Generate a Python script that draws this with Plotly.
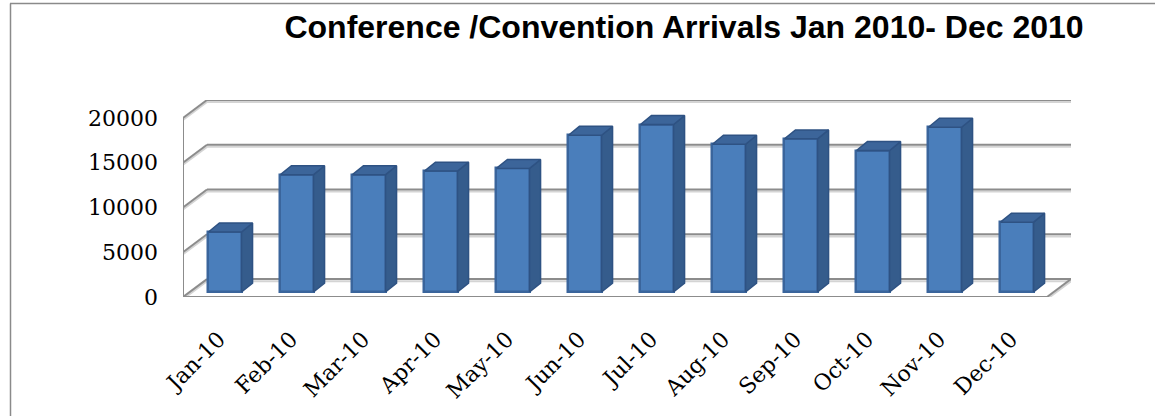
import plotly.graph_objects as go

# ---- data ----
MONTHS = ["Jan-10", "Feb-10", "Mar-10", "Apr-10", "May-10", "Jun-10",
          "Jul-10", "Aug-10", "Sep-10", "Oct-10", "Nov-10", "Dec-10"]
ARRIVALS = [6700, 13100, 13100, 13500, 13800, 17500,
            18700, 16500, 17100, 15800, 18400, 7800]
Y_TICKS = [0, 5000, 10000, 15000, 20000]
Y_TICK_LABELS = ["0", "5000", "10000", "15000", "20000"]
TITLE = "Conference /Convention Arrivals Jan 2010- Dec 2010"

# ---- pseudo-3D styling constants ----
W, H = 1155, 416
ML, MR, MT, MB = 183, 84, 100, 119
DX_WALL, DY_WALL = 0.333, 2000      # depth of floor / side wall
BAR_SHIFT_X, BAR_BASE = 0.083, 560  # bars sit a bit back from the front
BAR_W = 0.46
DX_BAR, DY_BAR = 0.153, 1000        # depth of each bar

n = len(MONTHS)
idx = list(range(n))
x_lo, x_hi = -0.5, n - 0.5
ymax = Y_TICKS[-1] + DY_WALL

FRONT = "#4A7EBB"
FRONT_EDGE = "#3A659C"
SIDE = "#355C8C"
TOP = "#3C659A"
EDGE = "#2E5283"
GRID = "#8C8C8C"
GRID_SHADOW = "#D4D4D4"

shapes = []
def line(x0, y0, x1, y1, color, width):
    shapes.append(dict(type="line", xref="x", yref="y", x0=x0, y0=y0, x1=x1, y1=y1,
                       line=dict(color=color, width=width), layer="below"))

shadow = -230
for g in Y_TICKS:
    line(x_lo + DX_WALL, g + DY_WALL + shadow, x_hi + DX_WALL, g + DY_WALL + shadow, GRID_SHADOW, 2)
    line(x_lo, g + shadow, x_lo + DX_WALL, g + DY_WALL + shadow, GRID_SHADOW, 2)
line(x_lo, 0 + shadow, x_hi, 0 + shadow, GRID_SHADOW, 2)
line(x_hi, 0 + shadow, x_hi + DX_WALL, DY_WALL + shadow, GRID_SHADOW, 2)

for g in Y_TICKS:
    line(x_lo + DX_WALL, g + DY_WALL, x_hi + DX_WALL, g + DY_WALL, GRID, 2)
    line(x_lo, g, x_lo + DX_WALL, g + DY_WALL, GRID, 2)
line(x_lo, 0, x_lo, Y_TICKS[-1], GRID, 2)
line(x_lo, 0, x_hi, 0, GRID, 2)
line(x_hi, 0, x_hi + DX_WALL, DY_WALL, GRID, 2)

# page border (decorative frame)
def px_to_paper_x(px):
    return (px - ML) / (W - ML - MR)
def px_to_paper_y(py):
    return 1 - (py - MT) / (H - MT - MB)
shapes.append(dict(type="line", xref="paper", yref="paper",
                   x0=px_to_paper_x(10.5), y0=px_to_paper_y(3.5),
                   x1=px_to_paper_x(10.5), y1=px_to_paper_y(420),
                   line=dict(color="#8A8A8A", width=1.5), layer="below"))
shapes.append(dict(type="line", xref="paper", yref="paper",
                   x0=px_to_paper_x(10), y0=px_to_paper_y(3.5),
                   x1=px_to_paper_x(1160), y1=px_to_paper_y(3.5),
                   line=dict(color="#8A8A8A", width=1.5), layer="below"))

fig = go.Figure()

# front faces
fig.add_trace(go.Bar(
    x=idx, y=ARRIVALS, base=BAR_BASE, width=BAR_W,
    offset=-BAR_W / 2 + BAR_SHIFT_X,
    marker=dict(color=FRONT, line=dict(color=FRONT_EDGE, width=2.5)),
    hoverinfo="skip", showlegend=False))

# side faces and top faces
sx, sy, tx, ty = [], [], [], []
for i, v in zip(idx, ARRIVALS):
    xl = i - BAR_W / 2 + BAR_SHIFT_X
    xr = i + BAR_W / 2 + BAR_SHIFT_X
    b = BAR_BASE
    t = BAR_BASE + v
    sx += [xr, xr + DX_BAR, xr + DX_BAR, xr, xr, None]
    sy += [b, b + DY_BAR, t + DY_BAR, t, b, None]
    tx += [xl, xl + DX_BAR, xr + DX_BAR, xr, xl, None]
    ty += [t, t + DY_BAR, t + DY_BAR, t, t, None]

fig.add_trace(go.Scatter(x=sx, y=sy, mode="lines", fill="toself", fillcolor=SIDE,
                         line=dict(color=EDGE, width=1.5), hoverinfo="skip", showlegend=False))
fig.add_trace(go.Scatter(x=tx, y=ty, mode="lines", fill="toself", fillcolor=TOP,
                         line=dict(color=EDGE, width=1.5), hoverinfo="skip", showlegend=False))

fig.update_layout(
    width=W, height=H,
    margin=dict(l=ML, r=MR, t=MT, b=MB, pad=0),
    paper_bgcolor="white", plot_bgcolor="rgba(0,0,0,0)",
    shapes=shapes,
    title=dict(text="<b>" + TITLE + "</b>", x=684 / W, xanchor="center",
               y=1 - 27 / H, yanchor="middle",
               font=dict(family="Liberation Sans, Arial", size=32, color="black")),
    xaxis=dict(range=[x_lo, x_hi + DX_WALL], tickvals=idx, ticktext=MONTHS,
               tickangle=-45, showgrid=False, zeroline=False, showline=False,
               ticks="", ticklabelstandoff=24, automargin=False,
               tickfont=dict(family="DejaVu Serif", size=22, color="black")),
    yaxis=dict(range=[0, ymax], tickvals=Y_TICKS, ticktext=Y_TICK_LABELS,
               showgrid=False, zeroline=False, showline=False, ticks="",
               ticklabelstandoff=24, automargin=False,
               tickfont=dict(family="DejaVu Serif", size=22, color="black")),
    bargap=0,
)

fig.write_html("out.html")
